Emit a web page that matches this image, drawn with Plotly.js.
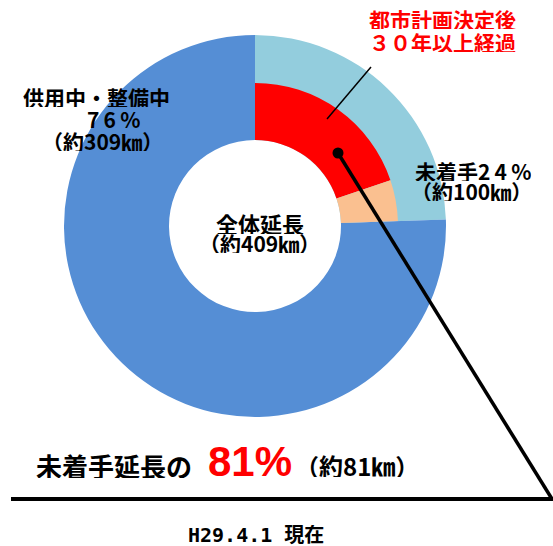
<!DOCTYPE html>
<html>
<head>
<meta charset="utf-8">
<script src="https://cdn.plot.ly/plotly-3.0.1.min.js"></script>
<style>html,body{margin:0;padding:0;background:#fff;}#chart{width:553px;height:546px;}</style>
</head>
<body>
<div id="chart"></div>
<script>
// Data
const outerLabels = ["未着手", "供用中・整備中"];
const outerValues = [100, 309];           // km
const outerColors = ["#93CDDD", "#558ED5"];

const innerLabels = ["都市計画決定後30年以上経過", "その他未着手", "供用中・整備中"];
const innerValues = [81, 19, 309];        // km
const innerColors = ["#FF0000", "#FAC090", "rgba(0,0,0,0)"];

const W = 553, H = 546;
const px = v => v / W;
const py = v => 1 - v / H;

// geometry (pixels)
const cx = 255, cy = 226, rOuter = 191, rInner = 143, rHole = 86;

function dom(r) {
  return {x: [px(cx - r), px(cx + r)], y: [py(cy + r), py(cy - r)]};
}

const traces = [
  {
    type: "pie", labels: outerLabels, values: outerValues,
    marker: {colors: outerColors, line: {width: 0}},
    hole: rHole / rOuter, sort: false, direction: "clockwise", rotation: 0,
    textinfo: "none", hoverinfo: "skip", domain: dom(rOuter), showlegend: false
  },
  {
    type: "pie", labels: innerLabels, values: innerValues,
    marker: {colors: innerColors, line: {width: 0}},
    hole: rHole / rInner, sort: false, direction: "clockwise", rotation: 0,
    textinfo: "none", hoverinfo: "skip", domain: dom(rInner), showlegend: false
  }
];

const JP = "Noto Sans CJK JP, sans-serif";
const T = "\u2009";
function ann(text, x, y, size, color, family, extra) {
  return Object.assign({
    text: text, x: px(x), y: py(y), xref: "paper", yref: "paper",
    xanchor: "center", yanchor: "middle", showarrow: false,
    height: Math.round(size * 1.0),
    font: {family: family || JP, size: size, color: color || "#000", weight: "bold"}
  }, extra || {});
}

const annotations = [
  ann("都市計画決定後", 442, 19, 21, "#FF0000"),
  ann("３０年以上経過", 442, 42, 21, "#FF0000"),
  ann("供用中・整備中", 96, 96, 21),
  ann("7" + T + "6" + T + "%", 113, 118, 21),
  ann("（約309㎞）", 102, 140, 21),
  ann("未着手2" + T + "4" + T + "%", 473, 170, 21),
  ann("（約100㎞）", 471, 190, 21),
  ann("全体延長", 260, 223, 22),
  ann("（約409㎞）", 259, 243, 21),
  ann("未着手延長の", 114, 465, 26),
  ann("81%", 250, 461, 42, "#FF0000", "Liberation Sans, Arial, sans-serif", {height: 44}),
  ann("（約81㎞）", 357, 465, 24),
  ann("H29.4.1 現在", 256, 535, 20, "#000", "DejaVu Sans Mono, Noto Sans CJK JP, monospace")
];

const shapes = [
  {type: "line", xref: "paper", yref: "paper", x0: px(327), y0: py(119), x1: px(371), y1: py(67),
   line: {color: "#000", width: 1.5}},
  {type: "line", xref: "paper", yref: "paper", x0: px(338), y0: py(153), x1: px(552), y1: py(499),
   line: {color: "#000", width: 3.5}},
  {type: "line", xref: "paper", yref: "paper", x0: px(11), y0: py(499), x1: px(553), y1: py(499),
   line: {color: "#000", width: 4}},
  {type: "circle", xref: "paper", yref: "paper", x0: px(332.5), y0: py(158.5), x1: px(343.5), y1: py(147.5),
   fillcolor: "#000", line: {color: "#000", width: 0}}
];

const layout = {
  width: W, height: H,
  margin: {l: 0, r: 0, t: 0, b: 0},
  paper_bgcolor: "#fff", plot_bgcolor: "#fff",
  showlegend: false,
  annotations: annotations,
  shapes: shapes
};

Plotly.newPlot("chart", traces, layout, {staticPlot: true, displayModeBar: false});
</script>
</body>
</html>
